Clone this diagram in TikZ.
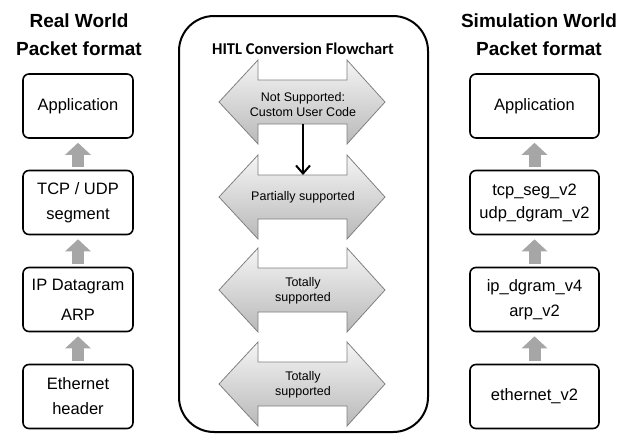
\documentclass[tikz,border=0pt]{standalone}
\usepackage{fontspec}
\setmainfont{Liberation Sans}
\newfontfamily\chartfont{Carlito}
\usepackage{tikz}
\usetikzlibrary{arrows.meta}
\definecolor{uparrowgray}{HTML}{A6A6A6}

\begin{document}
\begin{tikzpicture}[x=1pt, y=-1pt,
  layerbox/.style={draw, line width=1.6pt, rounded corners=6pt, minimum height=64pt,
    align=center, inner sep=2pt, font=\fontsize{16.5}{25}\selectfont},
  realbox/.style={layerbox, minimum width=110pt},
  simbox/.style={layerbox, minimum width=129pt},
  uparrow/.style={draw=uparrowgray, line width=12pt, -{Triangle[length=12pt,width=25pt]},
    shorten <=3pt, shorten >=4pt},
  heading/.style={font=\bfseries\fontsize{19}{28}\selectfont, align=center},
  dblarrow/.style={draw=gray, line width=0.8pt, top color=gray!8, bottom color=gray!55},
  support/.style={align=center, font=\fontsize{12.5}{15.5}\selectfont},
  flowline/.style={line width=2pt, -{Straight Barb[length=8pt,width=14pt]}}]
\useasboundingbox (0,0) rectangle (624,434);
%% titles
\node[heading] (realtitle) at (79,35.2) {Real World\\Packet format};
\node[heading] (simtitle) at (539,35.2) {Simulation World\\Packet format};
%% real world stack
\node[realbox] (rapp) at (78,106) {Application};
\node[realbox] (rtcp) at (78,202.5) {TCP / UDP\\segment};
\node[realbox] (rip) at (78,299.5) {IP Datagram\\[5pt]ARP};
\node[realbox] (reth) at (78,396.5) {Ethernet\\header};
%% simulation world stack
\node[simbox] (sapp) at (534.5,106) {Application};
\node[simbox] (stcp) at (534.5,202.5) {tcp\_seg\_v2\\[-2pt]udp\_dgram\_v2};
\node[simbox] (sip) at (534.5,299.5) {ip\_dgram\_v4\\arp\_v2};
\node[simbox] (seth) at (534.5,396.5) {ethernet\_v2};
\foreach \a/\b in {rtcp/rapp, rip/rtcp, reth/rip, stcp/sapp, sip/stcp, seth/sip}
  \draw[uparrow] (\a) -- (\b);
%% conversion flowchart
\node[draw, line width=2pt, rounded corners=35pt, minimum width=249pt, minimum height=416pt]
  (chart) at (303.5,224) {};
\node[font=\chartfont\bfseries\fontsize{16.5}{20}\selectfont] (charttitle) at (303,49)
  {HITL Conversion Flowchart};
\foreach \n/\yy in {notsup/102, partsup/197, totsup/290, fullsup/384}{
  \path[dblarrow] (219,\yy) -- (258,\yy-42) -- (258,\yy-22) -- (347,\yy-22) -- (347,\yy-42)
    -- (385,\yy) -- (347,\yy+42) -- (347,\yy+22) -- (258,\yy+22) -- (258,\yy+42) -- cycle;
  \coordinate (\n-n) at (303,\yy-22);
  \coordinate (\n-s) at (303,\yy+22);
}
\node[support] (notsuplbl) at (303,104.5) {Not Supported:\\Custom User Code};
\node[support] (partsuplbl) at (303,197) {Partially supported};
\node[support] (totsuplbl) at (303,291) {Totally\\supported};
\node[support] (fullsuplbl) at (303,385) {Totally\\supported};
\draw[flowline] (notsup-s) -- (partsup-n);
\end{tikzpicture}
\end{document}
